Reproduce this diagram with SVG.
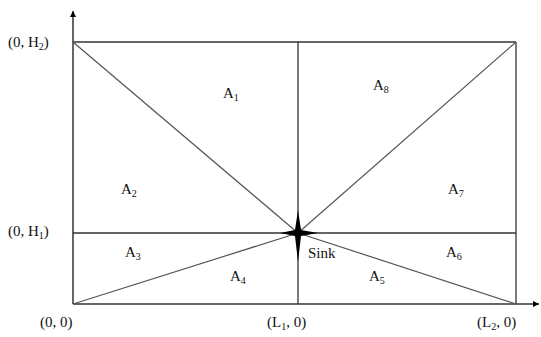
<svg xmlns="http://www.w3.org/2000/svg" width="541" height="337" viewBox="0 0 541 337">
<defs>
<marker id="arr" viewBox="0 0 10 10" refX="10" refY="5" markerWidth="6" markerHeight="6" markerUnits="userSpaceOnUse" orient="auto"><path d="M0,0 L10,5 L0,10 z" fill="#000"/></marker>
<style>
.ax{stroke:#333;stroke-width:1.5;fill:none}
.ln{stroke:#333;stroke-width:1.3;fill:none}
.dg{stroke:#555;stroke-width:1.2;fill:none}
.t{font-family:'Liberation Serif','DejaVu Serif',serif;font-size:15px;fill:#111}
.sub{font-size:10px}
</style>
</defs>
<g id="connectors">
<line class="ax" x1="73" y1="304" x2="73" y2="11" marker-end="url(#arr)"/>
<line class="ax" x1="73" y1="304" x2="539" y2="304" marker-end="url(#arr)"/>
<line class="ln" x1="73" y1="42" x2="516" y2="42"/>
<line class="ln" x1="516" y1="42" x2="516" y2="304"/>
<line class="ln" x1="73" y1="233" x2="516" y2="233"/>
<line class="ln" x1="298" y1="42" x2="298" y2="304"/>
<line class="dg" x1="73" y1="42" x2="298" y2="233"/>
<line class="dg" x1="516" y1="42" x2="298" y2="233"/>
<line class="dg" x1="73" y1="304" x2="298" y2="233"/>
<line class="dg" x1="516" y1="304" x2="298" y2="233"/>
</g>
<g id="sink" class="t" font-family="Liberation Serif, DejaVu Serif, serif">
<path d="M298,210 L301,230 L318,233 L301,236 L298,262 L295,236 L280,233 L295,230 Z" fill="#000"/>
<text x="308" y="258">Sink</text>
</g>
<g id="areas" class="t" font-family="Liberation Serif, DejaVu Serif, serif">
<text x="223" y="98">A<tspan class="sub" dy="3">1</tspan></text>
<text x="373" y="90">A<tspan class="sub" dy="3">8</tspan></text>
<text x="121" y="194">A<tspan class="sub" dy="3">2</tspan></text>
<text x="448" y="194">A<tspan class="sub" dy="3">7</tspan></text>
<text x="125" y="257">A<tspan class="sub" dy="3">3</tspan></text>
<text x="230" y="281">A<tspan class="sub" dy="3">4</tspan></text>
<text x="369" y="281">A<tspan class="sub" dy="3">5</tspan></text>
<text x="446" y="257">A<tspan class="sub" dy="3">6</tspan></text>
</g>
<g id="coords" class="t" font-family="Liberation Serif, DejaVu Serif, serif">
<text x="8" y="47">(0, H<tspan class="sub" dy="3">2</tspan><tspan dy="-3">)</tspan></text>
<text x="8" y="236">(0, H<tspan class="sub" dy="3">1</tspan><tspan dy="-3">)</tspan></text>
<text x="40" y="327">(0, 0)</text>
<text x="267" y="327">(L<tspan class="sub" dy="3">1</tspan><tspan dy="-3">, 0)</tspan></text>
<text x="477" y="327">(L<tspan class="sub" dy="3">2</tspan><tspan dy="-3">, 0)</tspan></text>
</g>
</svg>
